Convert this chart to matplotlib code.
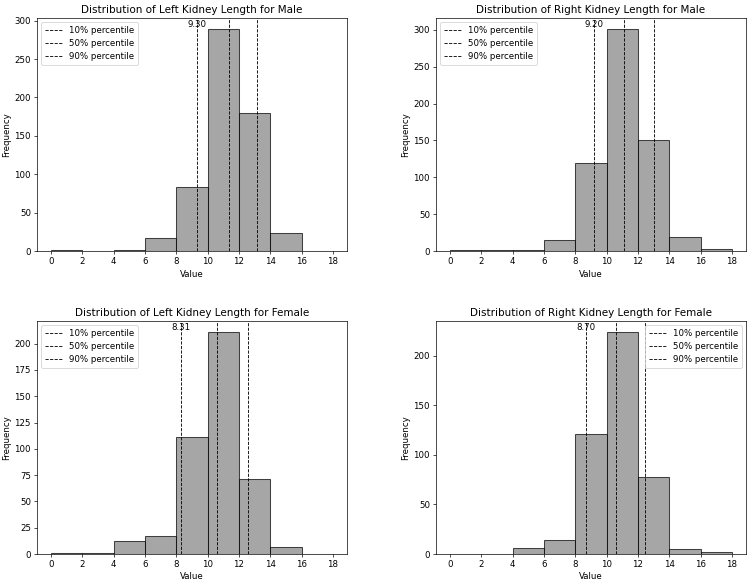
import matplotlib
matplotlib.use("Agg")
import matplotlib.pyplot as plt
import numpy as np

# bin edges 0,2,...,18
bin_edges = [0, 2, 4, 6, 8, 10, 12, 14, 16, 18]

# counts
left_male = [1, 0, 2, 17, 83, 289, 180, 23, 0]
right_male = [2, 1, 1, 15, 119, 301, 150, 19, 3]
left_female = [1, 1, 12, 17, 111, 211, 71, 7, 0]
right_female = [0, 0, 6, 14, 121, 224, 78, 5, 2]

# 10%, 50%, 90% percentiles
pct_left_male = [9.30, 11.35, 13.14]
pct_right_male = [9.20, 11.11, 13.00]
pct_left_female = [8.31, 10.62, 12.60]
pct_right_female = [8.70, 10.60, 12.42]

titles = ["Distribution of Left Kidney Length for Male",
          "Distribution of Right Kidney Length for Male",
          "Distribution of Left Kidney Length for Female",
          "Distribution of Right Kidney Length for Female"]
pct_names = ["10% percentile", "50% percentile", "90% percentile"]

DPI = 62
fig, axes = plt.subplots(2, 2, figsize=(750 / DPI, 582 / DPI), dpi=DPI)
plt.subplots_adjust(left=0.0493, right=0.9947, top=0.969, bottom=0.0481,
                    wspace=0.287, hspace=0.30)

panels = [(left_male, pct_left_male, "upper left"),
          (right_male, pct_right_male, "upper left"),
          (left_female, pct_left_female, "upper left"),
          (right_female, pct_right_female, "upper right")]

for ax, title, (counts, pcts, loc) in zip(axes.flat, titles, panels):
    edges = np.array(bin_edges)
    ax.bar(edges[:-1], counts, width=np.diff(edges), align="edge",
           color="gray", edgecolor="black", alpha=0.7, linewidth=1.2)
    for p, name in zip(pcts, pct_names):
        ax.axvline(p, color="black", linestyle="--", linewidth=1, label=name)
    ax.text(pcts[0], max(counts), f"{pcts[0]:.2f}", ha="center", va="bottom")
    ax.set_xticks(bin_edges)
    ax.set_title(title)
    ax.set_xlabel("Value")
    ax.set_ylabel("Frequency")
    ax.legend(loc=loc)

plt.savefig("out.png", dpi=DPI)
